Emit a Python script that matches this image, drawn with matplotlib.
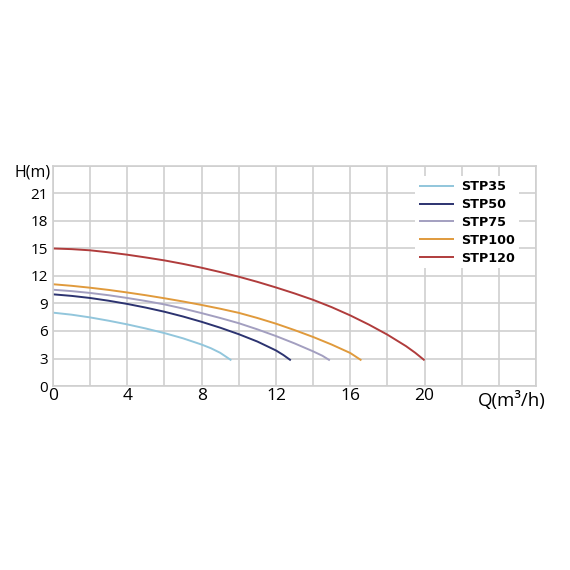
import matplotlib
matplotlib.use("Agg")
import matplotlib.pyplot as plt

names = ["STP35", "STP50", "STP75", "STP100", "STP120"]
colors = ["#92c6dc", "#2c3370", "#a39fc0", "#e09a3c", "#b03c3c"]

q35 = [0, 1, 2, 3, 4, 5, 6, 7, 8, 8.5, 9, 9.6]
h35 = [8.0, 7.78, 7.48, 7.12, 6.72, 6.27, 5.77, 5.2, 4.52, 4.12, 3.62, 2.8]
q50 = [0, 1, 2, 3, 4, 5, 6, 7, 8, 9, 10, 11, 12, 12.4, 12.8]
h50 = [10.0, 9.83, 9.6, 9.3, 8.95, 8.55, 8.1, 7.58, 7.0, 6.36, 5.65, 4.85, 3.88, 3.38, 2.8]
q75 = [0, 1, 2, 3, 4, 5, 6, 7, 8, 9, 10, 11, 12, 13, 14, 14.5, 14.9]
h75 = [10.5, 10.35, 10.15, 9.9, 9.6, 9.27, 8.9, 8.45, 7.95, 7.42, 6.85, 6.18, 5.45, 4.65, 3.78, 3.3, 2.8]
q100 = [0, 1, 2, 3, 4, 5, 6, 7, 8, 9, 10, 11, 12, 13, 14, 15, 16, 16.6]
h100 = [11.1, 10.93, 10.72, 10.48, 10.2, 9.9, 9.57, 9.22, 8.84, 8.43, 7.98, 7.42, 6.8, 6.1, 5.35, 4.52, 3.6, 2.8]
q120 = [0, 1, 2, 3, 4, 5, 6, 7, 8, 9, 10, 11, 12, 13, 14, 15, 16, 17, 18, 19, 19.5, 20]
h120 = [15.0, 14.93, 14.8, 14.58, 14.32, 14.02, 13.7, 13.32, 12.9, 12.43, 11.92, 11.36, 10.75, 10.1, 9.4, 8.6, 7.7, 6.7, 5.6, 4.35, 3.62, 2.8]

series_q = [q35, q50, q75, q100, q120]
series_h = [h35, h50, h75, h100, h120]

xticks = [0, 4, 8, 12, 16, 20]
yticks = [0, 3, 6, 9, 12, 15, 18, 21]

plt.rcParams['font.family'] = ['Open Sans', 'DejaVu Sans']

fig = plt.figure(figsize=(5.7, 5.7), dpi=100)
ax = fig.add_axes([0.093, 0.3228, 0.8474, 0.386])

for q, h, c, n in zip(series_q, series_h, colors, names):
    ax.plot(q, h, color=c, lw=1.4, label=n, solid_capstyle='butt', solid_joinstyle='round')

ax.set_xlim(0, 26)
ax.set_ylim(0, 24)
ax.set_xticks(range(0, 27, 2))
ax.set_yticks(range(0, 25, 3))
ax.set_xticklabels([str(v) if v in xticks else "" for v in range(0, 27, 2)], fontsize=12.5)
ax.set_yticklabels([str(v) if v in yticks else "" for v in range(0, 25, 3)], fontsize=11)
ax.tick_params(length=0)
ax.tick_params(axis='x', pad=1.5)
ax.tick_params(axis='y', pad=3.5)
ax.grid(True, color="#cfcfcf", lw=1.2)
ax.set_axisbelow(True)
for s in ax.spines.values():
    s.set_color("#cfcfcf")
    s.set_linewidth(1.2)

ax.text(-0.005, 23.3, "H(m)", ha='right', va='center', fontsize=11.5, transform=ax.get_yaxis_transform())
ax.text(24.7, -0.55, "Q(m³/h)", ha='center', va='top', fontsize=13.5)

leg = ax.legend(loc='upper left', frameon=True,
                fancybox=False, edgecolor='none', framealpha=1,
                prop={'family': 'DejaVu Sans', 'size': 9.2, 'weight': 'semibold'},
                handlelength=2.7, handletextpad=0.6, labelspacing=0.38, borderpad=0.3)
leg.set_bbox_to_anchor((409 / 570, 1 - 170 / 570), transform=fig.transFigure)

fig.savefig("out.png", dpi=100, facecolor='white')
